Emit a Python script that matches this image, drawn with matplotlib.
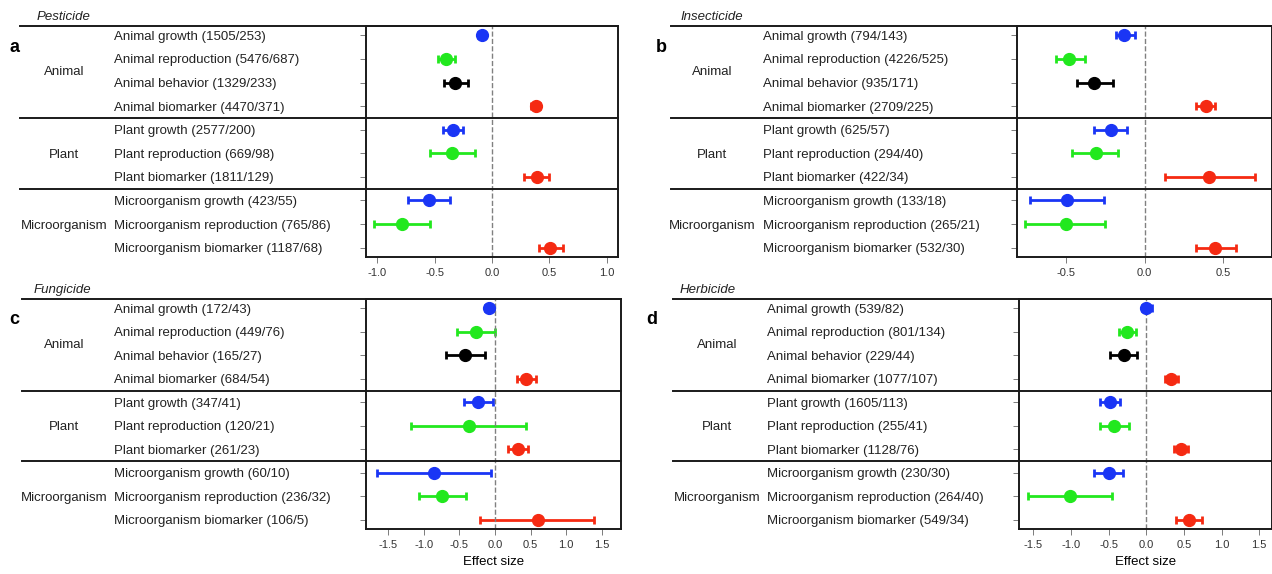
import numpy as np
import matplotlib.pyplot as plt
from matplotlib.transforms import blended_transform_factory
from matplotlib.lines import Line2D

plt.rcParams['font.family'] = ['Liberation Sans', 'DejaVu Sans']

# Grupos y colores por fila
groups = ['Animal', 'Plant', 'Microorganism']
group_rows = [1.5, 5, 8]
row_colors = ['blue', 'green', 'black', 'red', 'blue', 'green', 'red', 'blue', 'green', 'red']

# a - Pesticide
labels_a = ['Animal growth (1505/253)', 'Animal reproduction (5476/687)', 'Animal behavior (1329/233)',
            'Animal biomarker (4470/371)', 'Plant growth (2577/200)', 'Plant reproduction (669/98)',
            'Plant biomarker (1811/129)', 'Microorganism growth (423/55)',
            'Microorganism reproduction (765/86)', 'Microorganism biomarker (1187/68)']
mean_a = [-0.09, -0.40, -0.32, 0.38, -0.34, -0.35, 0.39, -0.55, -0.79, 0.51]
lo_a = [-0.12, -0.47, -0.42, 0.34, -0.43, -0.54, 0.28, -0.73, -1.03, 0.41]
hi_a = [-0.06, -0.32, -0.21, 0.42, -0.25, -0.15, 0.50, -0.37, -0.54, 0.62]

# b - Insecticide
labels_b = ['Animal growth (794/143)', 'Animal reproduction (4226/525)', 'Animal behavior (935/171)',
            'Animal biomarker (2709/225)', 'Plant growth (625/57)', 'Plant reproduction (294/40)',
            'Plant biomarker (422/34)', 'Microorganism growth (133/18)',
            'Microorganism reproduction (265/21)', 'Microorganism biomarker (532/30)']
mean_b = [-0.13, -0.48, -0.32, 0.39, -0.21, -0.31, 0.41, -0.49, -0.50, 0.45]
lo_b = [-0.18, -0.56, -0.43, 0.33, -0.32, -0.46, 0.13, -0.73, -0.76, 0.33]
hi_b = [-0.06, -0.38, -0.20, 0.45, -0.11, -0.17, 0.70, -0.26, -0.25, 0.58]

# c - Fungicide
labels_c = ['Animal growth (172/43)', 'Animal reproduction (449/76)', 'Animal behavior (165/27)',
            'Animal biomarker (684/54)', 'Plant growth (347/41)', 'Plant reproduction (120/21)',
            'Plant biomarker (261/23)', 'Microorganism growth (60/10)',
            'Microorganism reproduction (236/32)', 'Microorganism biomarker (106/5)']
mean_c = [-0.08, -0.26, -0.42, 0.44, -0.24, -0.37, 0.32, -0.85, -0.75, 0.60]
lo_c = [-0.14, -0.53, -0.69, 0.31, -0.44, -1.18, 0.19, -1.66, -1.07, -0.21]
hi_c = [-0.01, 0.00, -0.14, 0.57, -0.03, 0.44, 0.46, -0.06, -0.40, 1.39]

# d - Herbicide
labels_d = ['Animal growth (539/82)', 'Animal reproduction (801/134)', 'Animal behavior (229/44)',
            'Animal biomarker (1077/107)', 'Plant growth (1605/113)', 'Plant reproduction (255/41)',
            'Plant biomarker (1128/76)', 'Microorganism growth (230/30)',
            'Microorganism reproduction (264/40)', 'Microorganism biomarker (549/34)']
mean_d = [0.00, -0.25, -0.30, 0.33, -0.48, -0.43, 0.46, -0.50, -1.01, 0.57]
lo_d = [-0.06, -0.36, -0.48, 0.25, -0.61, -0.62, 0.37, -0.70, -1.57, 0.40]
hi_d = [0.07, -0.14, -0.12, 0.42, -0.35, -0.23, 0.56, -0.31, -0.46, 0.74]

colors = {'blue': '#1a35f5', 'green': '#22e81e', 'black': 'black', 'red': '#f52a12'}

W, H = 1272, 574
fig = plt.figure(figsize=(W / 100, H / 100), dpi=100)


def px_axes(x0, y0, x1, y1):
    return fig.add_axes([x0 / W, 1 - y1 / H, (x1 - x0) / W, (y1 - y0) / H])


def panel(box, xlim, ticks, labels, mean, lo, hi, title, letter, line_x, group_x, label_x,
          title_x, letter_x, xlabel):
    ax = px_axes(*box)
    y = np.arange(len(mean))
    mean = np.array(mean)
    err = [mean - np.array(lo), np.array(hi) - mean]
    for i in range(len(mean)):
        c = colors[row_colors[i]]
        ax.errorbar(mean[i], y[i], xerr=[[err[0][i]], [err[1][i]]], fmt='o', color=c,
                    ms=8.5, elinewidth=2, capsize=3, capthick=2)
    ax.axvline(0, color='gray', ls='--', lw=1)
    ax.set_xlim(xlim)
    ax.set_ylim(9.4, -0.4)
    ax.set_xticks(ticks)
    ax.set_xticklabels(['%.1f' % t for t in ticks], fontsize=8, color='#333333')
    ax.set_yticks(y)
    ax.set_yticklabels([])
    ax.tick_params(axis='y', length=4, width=0.6, color='#666666')
    ax.tick_params(axis='x', length=4, width=0.6, color='#666666', pad=4)
    for s in ax.spines.values():
        s.set_linewidth(1.4)
        s.set_color('#1a1a1a')
    if xlabel:
        ax.set_xlabel('Effect size', fontsize=9.5, labelpad=4)

    tr = blended_transform_factory(fig.transFigure, ax.transData)
    for yy in [-0.4, 3.5, 6.5]:
        fig.add_artist(Line2D([line_x / W, box[2] / W], [yy, yy], transform=tr,
                              color='#1a1a1a', lw=1.4))
    for i, lab in enumerate(labels):
        fig.text(label_x / W, i, lab, transform=tr, fontsize=9.5, color='#222222',
                 ha='left', va='center_baseline')
    for g, gy in zip(groups, group_rows):
        fig.text(group_x / W, gy, g, transform=tr, fontsize=9.5, color='#222222',
                 ha='center', va='center_baseline')
    fig.text(title_x / W, 1 - (box[1] - 9) / H, title, fontsize=9.5, style='italic',
             color='#222222', ha='left', va='center')
    fig.text(letter_x / W, 1 - (box[1] + 21) / H, letter, fontsize=13, fontweight='bold',
             ha='left', va='center')
    return ax


panel((366, 26, 618, 257), (-1.1, 1.1), [-1.0, -0.5, 0.0, 0.5, 1.0], labels_a, mean_a, lo_a, hi_a,
      'Pesticide', 'a', 20, 64, 114, 37, 9, False)
panel((1017, 26, 1272, 257), (-0.81, 0.81), [-0.5, 0.0, 0.5], labels_b, mean_b, lo_b, hi_b,
      'Insecticide', 'b', 671, 712, 763, 680, 656, False)
panel((366, 299, 621, 529), (-1.81, 1.77), [-1.5, -1.0, -0.5, 0.0, 0.5, 1.0, 1.5], labels_c,
      mean_c, lo_c, hi_c, 'Fungicide', 'c', 22, 64, 114, 34, 9, True)
panel((1019, 299, 1272, 529), (-1.69, 1.67), [-1.5, -1.0, -0.5, 0.0, 0.5, 1.0, 1.5], labels_d,
      mean_d, lo_d, hi_d, 'Herbicide', 'd', 673, 717, 767, 680, 646, True)

fig.savefig('out.png', dpi=100)
